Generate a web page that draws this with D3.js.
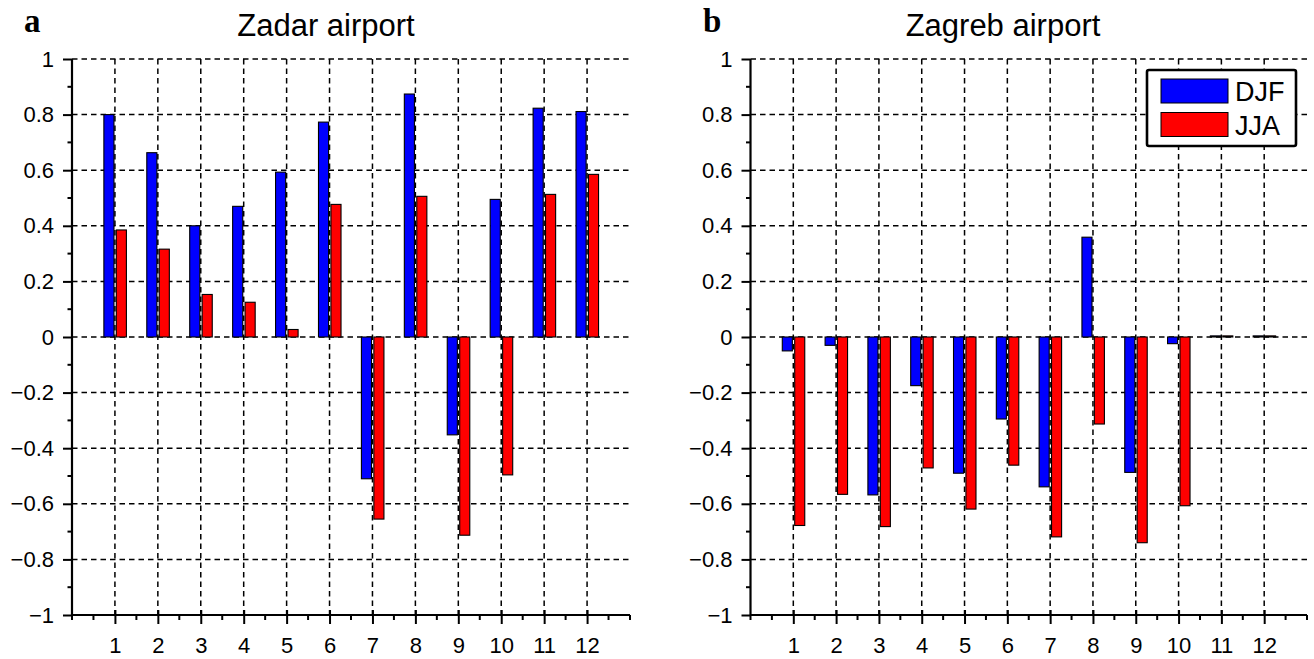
<!DOCTYPE html>
<html>
<head>
<meta charset="utf-8">
<script src="https://cdn.jsdelivr.net/npm/d3@7/dist/d3.min.js"></script>
<style>
  html, body { margin: 0; padding: 0; background: #fff; }
  svg { display: block; }
  text { font-family: "Liberation Sans", Arial, Helvetica, sans-serif; fill: #000; }
</style>
</head>
<body>
<svg id="chart" width="1314" height="659"></svg>
<script>
// Monthly correlation coefficients, winter (DJF) and summer (JJA)
const months = [1, 2, 3, 4, 5, 6, 7, 8, 9, 10, 11, 12];
const seasons = ["DJF", "JJA"];
const seasonColors = ["#0000ff", "#ff0000"];

const zadarDJF = [0.80, 0.663, 0.40, 0.47, 0.593, 0.773, -0.51, 0.874, -0.352, 0.495, 0.823, 0.811];
const zadarJJA = [0.385, 0.316, 0.153, 0.125, 0.027, 0.477, -0.655, 0.506, -0.713, -0.496, 0.513, 0.585];

const zagrebDJF = [-0.05, -0.03, -0.568, -0.175, -0.49, -0.295, -0.539, 0.359, -0.487, -0.024, 0.004, 0.004];
const zagrebJJA = [-0.678, -0.566, -0.682, -0.471, -0.619, -0.461, -0.719, -0.313, -0.74, -0.607, 0.004, 0.004];

const yTicks = [-1, -0.8, -0.6, -0.4, -0.2, 0, 0.2, 0.4, 0.6, 0.8, 1];
const yMinorTicks = [-0.9, -0.7, -0.5, -0.3, -0.1, 0.1, 0.3, 0.5, 0.7, 0.9];
const xMinorTicks = [0, 0.5, 1.5, 2.5, 3.5, 4.5, 5.5, 6.5, 7.5, 8.5, 9.5, 10.5, 11.5, 12.5, 13];

const panels = [
  { letter: "a", title: "Zadar airport", series: [zadarDJF, zadarJJA], left: 72, right: 630, titleX: 326, letterX: 24, legend: false },
  { letter: "b", title: "Zagreb airport", series: [zagrebDJF, zagrebJJA], left: 750.5, right: 1307, titleX: 1003, letterX: 703, legend: true }
];

const svg = d3.select("#chart");
const plotTop = 59, plotBottom = 615;
const barOffsets = [-0.14, 0.15];
const barWidth = 0.235;
const fmt = v => (v < 0 ? "\u2212" : "") + String(Math.abs(v));

panels.forEach(p => {
  const x = d3.scaleLinear().domain([0, 13]).range([p.left, p.right]);
  const y = d3.scaleLinear().domain([-1, 1]).range([plotBottom, plotTop]);
  const g = svg.append("g");

  // dashed grid
  g.append("g").selectAll("line").data(yTicks).join("line")
    .attr("x1", p.left).attr("x2", p.right)
    .attr("y1", d => y(d)).attr("y2", d => y(d))
    .attr("stroke", "#000").attr("stroke-width", 1.5)
    .attr("stroke-dasharray", "5.5,4");
  g.append("g").selectAll("line").data(months).join("line")
    .attr("x1", d => x(d)).attr("x2", d => x(d))
    .attr("y1", plotTop).attr("y2", plotBottom)
    .attr("stroke", "#000").attr("stroke-width", 1.5)
    .attr("stroke-dasharray", "5.5,4");

  // grouped bars
  p.series.forEach((vals, si) => {
    g.append("g").selectAll("rect").data(months).join("rect")
      .attr("x", (m) => x(m + barOffsets[si] - barWidth / 2))
      .attr("width", x(barWidth) - x(0))
      .attr("y", (m, i) => y(Math.max(0, vals[i])))
      .attr("height", (m, i) => Math.abs(y(vals[i]) - y(0)))
      .attr("fill", seasonColors[si])
      .attr("stroke", "#000").attr("stroke-width", 1.1);
  });

  // y axis
  const yAxis = d3.axisLeft(y).tickValues(yTicks).tickSize(9).tickPadding(9).tickFormat(fmt);
  const ya = g.append("g").attr("transform", `translate(${p.left},0)`).call(yAxis);
  ya.attr("font-size", null).attr("font-family", null);
  ya.select(".domain").attr("d", `M0,${plotTop}V${plotBottom}`).attr("stroke", "#000").attr("stroke-width", 2.2);
  ya.selectAll(".tick line").attr("stroke", "#000").attr("stroke-width", 2);
  ya.selectAll(".tick text").style("font-size", "22px");
  g.append("g").selectAll("line").data(yMinorTicks).join("line")
    .attr("x1", p.left - 4.5).attr("x2", p.left)
    .attr("y1", d => y(d)).attr("y2", d => y(d))
    .attr("stroke", "#000").attr("stroke-width", 2);

  // x axis
  const xAxis = d3.axisBottom(x).tickValues(months).tickSize(9).tickPadding(13).tickFormat(d3.format("d"));
  const xa = g.append("g").attr("transform", `translate(0,${plotBottom})`).call(xAxis);
  xa.attr("font-size", null).attr("font-family", null);
  xa.select(".domain").attr("d", `M${p.left},0H${p.right}`).attr("stroke", "#000").attr("stroke-width", 2.2);
  xa.selectAll(".tick line").attr("y1", -5).attr("stroke", "#000").attr("stroke-width", 2);
  xa.selectAll(".tick text").style("font-size", "22px");
  g.append("g").selectAll("line").data(xMinorTicks).join("line")
    .attr("x1", d => x(d)).attr("x2", d => x(d))
    .attr("y1", plotBottom).attr("y2", plotBottom + 5)
    .attr("stroke", "#000").attr("stroke-width", 2);

  // title and panel letter
  g.append("text").attr("x", p.titleX).attr("y", 36)
    .attr("text-anchor", "middle").style("font-size", "31px").text(p.title);
  g.append("text").attr("x", p.letterX).attr("y", 32)
    .style("font-family", "'Liberation Serif', 'Times New Roman', serif")
    .style("font-weight", "bold").style("font-size", "33px").text(p.letter);

  // legend
  if (p.legend) {
    const lg = g.append("g");
    lg.append("rect").attr("x", 1147).attr("y", 70).attr("width", 149).attr("height", 76)
      .attr("rx", 2).attr("fill", "#fff").attr("stroke", "#000").attr("stroke-width", 2.6);
    seasons.forEach((s, i) => {
      lg.append("rect").attr("x", 1161).attr("y", 79 + i * 33.5).attr("width", 67).attr("height", 24)
        .attr("fill", seasonColors[i]).attr("stroke", "#000").attr("stroke-width", 1);
      lg.append("text").attr("x", 1235).attr("y", 101 + i * 34)
        .style("font-size", "27px").text(s);
    });
  }
});
</script>
</body>
</html>
